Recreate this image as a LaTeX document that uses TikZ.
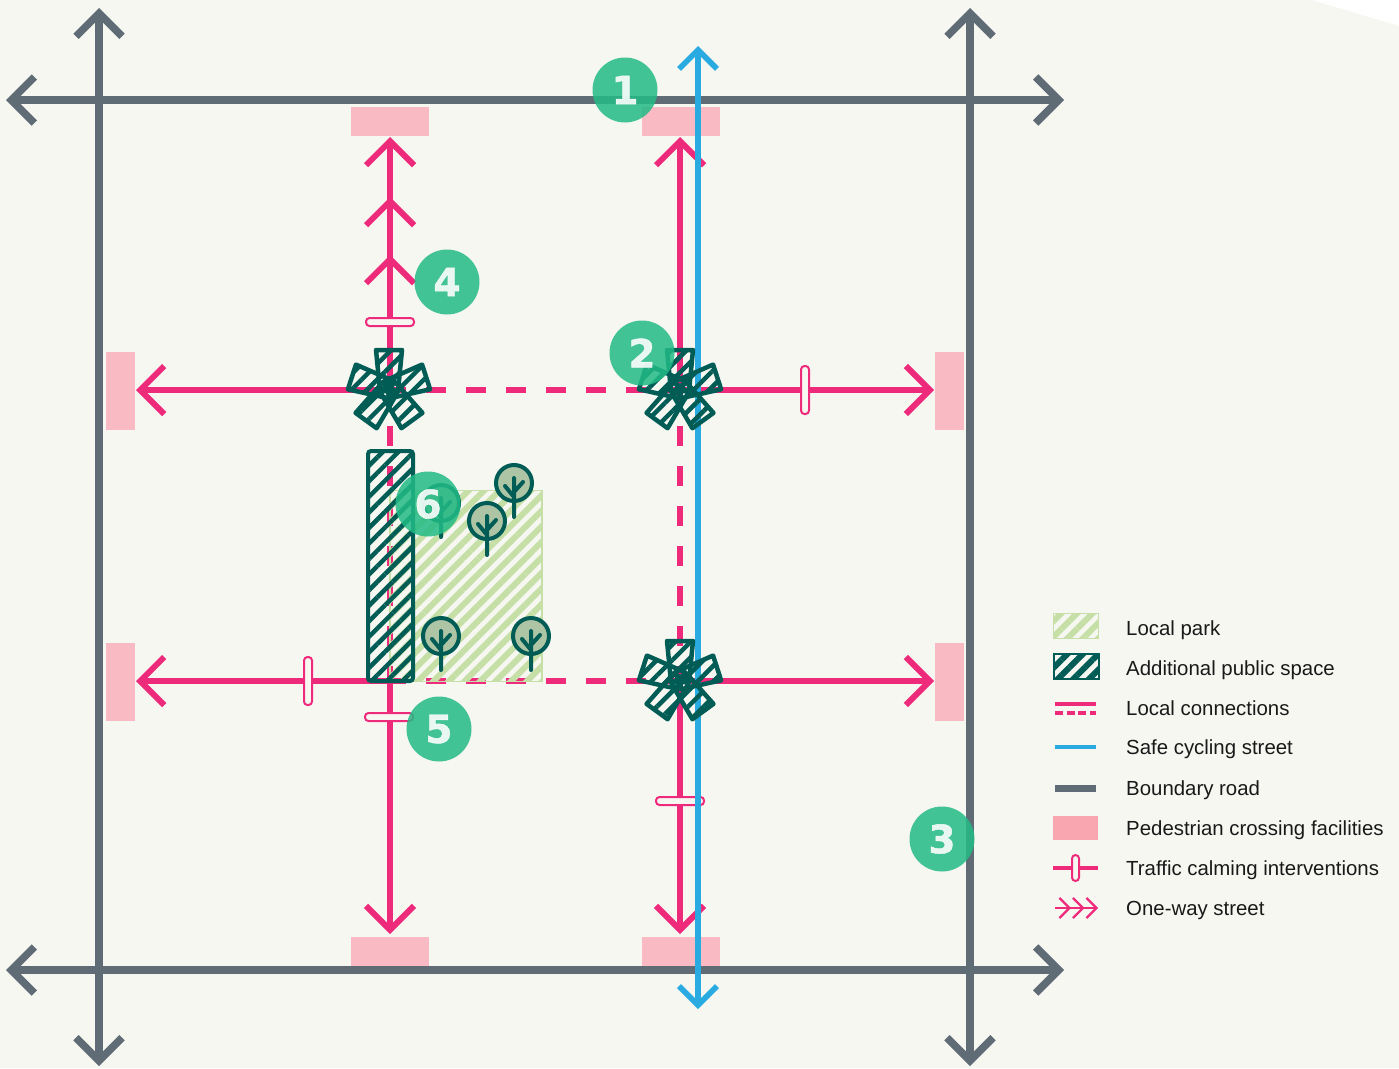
\documentclass[tikz,border=0pt]{standalone}
\usepackage{fontspec}
\setmainfont{Liberation Sans}
\newfontfamily\badgefont[BoldFeatures={FakeBold=1.2}]{DejaVu Sans}
\usetikzlibrary{arrows.meta}
\usetikzlibrary{patterns.meta}
\usetikzlibrary{positioning}
\definecolor{paper}{HTML}{F7F7F2}
\definecolor{roadgrey}{HTML}{5F6B75}
\definecolor{streetpink}{HTML}{EE2A7B}
\definecolor{cyclingblue}{HTML}{29ABE2}
\definecolor{crossingpink}{HTML}{F9BAC3}
\definecolor{keypink}{HTML}{F9A6B0}
\definecolor{parkgreen}{HTML}{C6DFA6}
\definecolor{spaceteal}{HTML}{005C55}
\definecolor{treegreen}{HTML}{AEC5A5}
\definecolor{badgegreen}{HTML}{23BB86}
\tikzset{
boundary/.style={draw=roadgrey,line width=7.5pt,{Straight Barb[length=23pt,width=46pt,line width=7.5pt]}-{Straight Barb[length=23pt,width=46pt,line width=7.5pt]}},
street/.style={draw=streetpink,line width=6pt},
streetend/.style={street,-{Straight Barb[length=24pt,width=48pt,line width=6pt]}},
localconn/.style={draw=streetpink,line width=6pt,dash pattern=on 20pt off 20pt,dash phase=4pt},
cycling/.style={draw=cyclingblue,line width=5.5pt,{Straight Barb[length=19pt,width=38pt,line width=5.5pt]}-{Straight Barb[length=19pt,width=38pt,line width=5.5pt]}},
crossing/.style={fill=crossingpink,inner sep=0pt,outer sep=0pt},
calming/.style={draw=streetpink,fill=paper,line width=2pt,rounded corners=3.5pt,inner sep=0pt,outer sep=0pt},
parkbox/.style={draw=parkgreen,line width=1.5pt,pattern={Lines[angle=45,distance=11pt,line width=6pt]},pattern color=parkgreen,inner sep=0pt,outer sep=0pt},
spacebox/.style={draw=spaceteal,line width=4pt,rounded corners=3pt,pattern={Lines[angle=45,distance=11pt,line width=4.5pt]},pattern color=spaceteal,inner sep=0pt,outer sep=0pt},
badge/.style={circle,fill=badgegreen,fill opacity=.85,text=white,text opacity=.88,minimum size=65pt,inner sep=0pt,font=\badgefont\bfseries\fontsize{39}{39}\selectfont},
legendtext/.style={text=black!90,font=\fontsize{20.4}{24}\selectfont,text height=14.5pt,text depth=0pt,inner sep=0pt,anchor=west},
legendline/.style={minimum width=41pt,minimum height=0pt,inner sep=0pt,outer sep=0pt},
pics/arm/.style={code={
  \draw[line width=4.5pt,draw=spaceteal,line join=round,pattern={Lines[angle=45,distance=11pt,line width=4.5pt]},pattern color=spaceteal,rotate=#1]
    (-13,-39) -- (13,-39) -- (9,2) -- (-9,2) -- cycle;}},
pics/publicstar/.style={code={
  \foreach \a in {0,72,144,216,288} {\pic {arm=\a};}}},
pics/tree/.style={code={
  \draw[line width=4pt,draw=spaceteal,fill=treegreen] (0,0) circle (18);
  \draw[line width=4pt,draw=spaceteal,line cap=round] (0,-5) -- (0,34)
    (-9,3) -- (0,14) (9,-1) -- (0,9);}}
}
\begin{document}
\begin{tikzpicture}[x=1pt,y=-1pt]
  \useasboundingbox (0,0) rectangle (1399,1068);
  \fill[paper] (0,0) -- (1312,0) -- (1399,26) -- (1399,1068) -- (0,1068) -- cycle;

  % road ends and junctions
  \coordinate (westN) at (6,100);   \coordinate (eastN) at (1064,100);
  \coordinate (westS) at (6,970);   \coordinate (eastS) at (1064,970);
  \coordinate (northW) at (99,8);   \coordinate (southW) at (99,1066);
  \coordinate (northE) at (970,8);  \coordinate (southE) at (970,1066);
  \coordinate (cycleN) at (698,46); \coordinate (cycleS) at (698,1009);
  \coordinate (jNW) at (390,390);   \coordinate (jNE) at (680,390);
  \coordinate (jSW) at (390,681);   \coordinate (jSE) at (680,681);
  \coordinate (topW) at (390,137);  \coordinate (midW) at (390,197);
  \coordinate (lowW) at (390,255);  \coordinate (topE) at (680,137);
  \coordinate (botW) at (390,934);  \coordinate (botE) at (680,934);
  \coordinate (leftN) at (136,390); \coordinate (rightN) at (934,390);
  \coordinate (leftS) at (136,681); \coordinate (rightS) at (934,681);

  % crossings
  \node[crossing,minimum width=78pt,minimum height=29pt] (crossNW) at (390,121.5) {};
  \node[crossing,minimum width=78pt,minimum height=29pt] (crossNE) at (681,121.5) {};
  \node[crossing,minimum width=78pt,minimum height=29pt] (crossSW) at (390,951.5) {};
  \node[crossing,minimum width=78pt,minimum height=29pt] (crossSE) at (681,951.5) {};
  \node[crossing,minimum width=29pt,minimum height=78pt] (crossWN) at (120.5,391) {};
  \node[crossing,minimum width=29pt,minimum height=78pt] (crossWS) at (120.5,682) {};
  \node[crossing,minimum width=29pt,minimum height=78pt] (crossEN) at (949.5,391) {};
  \node[crossing,minimum width=29pt,minimum height=78pt] (crossES) at (949.5,682) {};

  % boundary roads
  \draw[boundary] (westN) -- (eastN);
  \draw[boundary] (westS) -- (eastS);
  \draw[boundary] (northW) -- (southW);
  \draw[boundary] (northE) -- (southE);

  % streets
  \draw[streetend] (jNW) -- (topW);
  \draw[streetend] (jNW) -- (midW);
  \draw[streetend] (jNW) -- (lowW);
  \draw[streetend] (jNE) -- (topE);
  \draw[streetend] (jSW) -- (botW);
  \draw[streetend] (jSE) -- (botE);
  \draw[streetend] (jNW) -- (leftN);
  \draw[streetend] (jNE) -- (rightN);
  \draw[streetend] (jSW) -- (leftS);
  \draw[streetend] (jSE) -- (rightS);
  \draw[localconn] (jNW) -- (jNE);
  \draw[localconn] (jSW) -- (jSE);
  \draw[localconn] (jNW) -- (jSW);
  \draw[localconn] (jNE) -- (jSE);

  % calming
  \node[calming,minimum width=48pt,minimum height=8pt] (calmA) at (390,322) {};
  \node[calming,minimum width=8pt,minimum height=48pt] (calmB) at (805,390) {};
  \node[calming,minimum width=8pt,minimum height=48pt] (calmC) at (308,681) {};
  \node[calming,minimum width=48pt,minimum height=8pt] (calmD) at (389,717) {};
  \node[calming,minimum width=48pt,minimum height=8pt] (calmE) at (680,801) {};

  \draw[cycling] (cycleS) -- (cycleN);

  % park and public space
  \node[parkbox,minimum width=152pt,minimum height=191pt] (park) at (466,586) {};
  \pic at (514,483) {tree};
  \pic at (487,521) {tree};
  \pic at (441,503) {tree};
  \pic at (441,636) {tree};
  \pic at (531,636) {tree};
  \node[spacebox,minimum width=45pt,minimum height=230pt] (space) at (390.5,566) {};
  \pic at (389,389) {publicstar};
  \pic at (680,389) {publicstar};
  \pic at (680,680) {publicstar};

  % numbers
  \node[badge] (badgeA) at (625,90)  {1};
  \node[badge] (badgeB) at (642,353) {2};
  \node[badge] (badgeC) at (942,839) {3};
  \node[badge] (badgeD) at (447,282) {4};
  \node[badge] (badgeE) at (439,729) {5};
  \node[badge] (badgeF) at (428,504) {6};

  % legend
  \node[parkbox,minimum width=45pt,minimum height=25pt] (keyPark) at (1076,626) {};
  \node[spacebox,rounded corners=0pt,line width=2pt,pattern={Lines[angle=45,distance=11pt,line width=6pt]},minimum width=45pt,minimum height=25pt] (keySpace) at (1076,666) {};
  \node[legendline] (keyConn) at (1075.5,708) {};
  \node[legendline] (keyCycle) at (1075.5,747) {};
  \node[legendline] (keyRoad) at (1075.5,788) {};
  \node[crossing,fill=keypink,minimum width=45pt,minimum height=24pt] (keyCross) at (1075.5,828) {};
  \node[legendline] (keyCalm) at (1075.5,868) {};
  \node[legendline] (keyWay) at (1075.5,908) {};
  \draw[draw=streetpink,line width=4pt] ([yshift=4.5pt]keyConn.west) -- ([yshift=4.5pt]keyConn.east);
  \draw[draw=streetpink,line width=4pt,dash pattern=on 8pt off 3.5pt] ([yshift=-4.5pt]keyConn.west) -- ([yshift=-4.5pt]keyConn.east);
  \draw[draw=cyclingblue,line width=4pt] (keyCycle.west) -- (keyCycle.east);
  \draw[draw=roadgrey,line width=7pt] (keyRoad.west) -- (keyRoad.east);
  \draw[draw=streetpink,line width=4pt] ([xshift=-2pt]keyCalm.west) -- ([xshift=2pt]keyCalm.east);
  \node[calming,minimum width=7pt,minimum height=26pt] (keyCalmBar) at (keyCalm) {};
  \draw[draw=streetpink,line width=2.2pt,-{Straight Barb[length=10pt,width=20pt,line width=2.2pt]}] (keyWay.west) -- ([xshift=2pt]keyWay.east);
  \draw[draw=streetpink,line width=2.2pt,-{Straight Barb[length=10pt,width=20pt,line width=2.2pt]}] (keyWay.west) -- ([xshift=-11.5pt]keyWay.east);
  \draw[draw=streetpink,line width=2.2pt,-{Straight Barb[length=10pt,width=20pt,line width=2.2pt]}] (keyWay.west) -- ([xshift=-25pt]keyWay.east);
  \node[legendtext] (textPark) at (1126,628) {Local park};
  \node[legendtext] (textSpace) at (1126,668) {Additional public space};
  \node[legendtext] (textConn) at (1126,708) {Local connections};
  \node[legendtext] (textCycle) at (1126,747) {Safe cycling street};
  \node[legendtext] (textRoad) at (1126,788) {Boundary road};
  \node[legendtext] (textCross) at (1126,828) {Pedestrian crossing facilities};
  \node[legendtext] (textCalm) at (1126,868) {Traffic calming interventions};
  \node[legendtext] (textWay) at (1126,908) {One-way street};
\end{tikzpicture}
\end{document}
